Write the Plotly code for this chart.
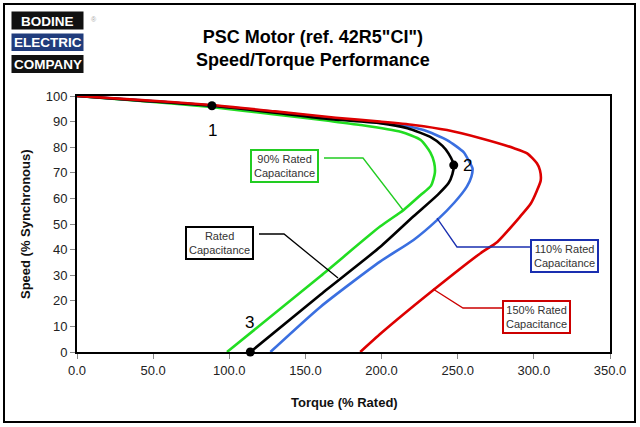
import plotly.graph_objects as go

# ---------------- data (torque % rated, speed % synchronous) ----------------
torque_rated = [0, 40, 88.6, 130, 165, 199, 217, 232, 240, 244, 247.4, 246.5, 244, 237, 221, 199, 160, 113.8]
speed_rated = [100, 98.3, 96.2, 93.5, 91, 89.4, 87.4, 84, 80.5, 77.5, 73, 69.5, 66, 61.5, 53, 41, 22.5, 0]

torque_90 = [0, 40, 88, 130, 165, 186, 212.5, 225.7, 232, 234.5, 235, 232.5, 226, 214.5, 199, 160, 98.5]
speed_90 = [100, 98.2, 95.7, 92.8, 90.3, 88.7, 86, 82.8, 78, 74, 70, 65, 61.5, 55.5, 49, 29.7, 0]

torque_110 = [0, 40, 88, 130, 180, 212.5, 227.6, 243, 254, 257, 259.7, 259, 256, 248, 236.6, 221, 199, 160, 127]
speed_110 = [100, 98.4, 96.3, 93.8, 90.5, 88.7, 86.7, 82.8, 78, 75, 71.8, 68.5, 64.6, 58.5, 51.6, 43.75, 35.3, 17.7, 0]

torque_150 = [0, 40, 88, 130, 170, 199, 221, 243, 265, 287, 295.6, 302, 304, 304.5, 302, 298, 291, 276, 265, 234, 200, 186]
speed_150 = [100, 98.5, 96.5, 94, 91.5, 90, 88.7, 86.7, 83.5, 79.6, 77.6, 73.7, 71, 67, 63, 58, 52.9, 43, 38.6, 24.2, 7.5, 0]

point_labels = ["1", "2", "3"]
point_torque = [88.6, 247.4, 113.8]
point_speed = [96.2, 73, 0]

x_ticks = [0, 50, 100, 150, 200, 250, 300, 350]
y_ticks = [0, 10, 20, 30, 40, 50, 60, 70, 80, 90, 100]

callout_texts = ["90% Rated<br>Capacitance", "Rated<br>Capacitance",
                 "110% Rated<br>Capacitance", "150% Rated<br>Capacitance"]

# ---------------- style ----------------
C_GREEN = "#22dd22"
C_BLACK = "#000000"
C_BLUE = "#3a6fe0"
C_RED = "#dd0000"
FONT = "Liberation Sans, Arial, sans-serif"

# plot area in pixels (left, right, top, bottom)
L, R, T, B = 77, 610, 96, 352
W, H = 640, 427


def pxx(p):
    return (p - L) / (R - L)


def pxy(p):
    return (B - p) / (B - T)


fig = go.Figure()


def curve(x, y, color, name):
    fig.add_trace(go.Scatter(x=x, y=y, mode="lines", name=name,
                             line=dict(color=color, width=2.6, shape="spline", smoothing=0.6),
                             hoverinfo="x+y", cliponaxis=False))


curve(torque_90, speed_90, C_GREEN, "90% Rated Capacitance")
curve(torque_110, speed_110, C_BLUE, "110% Rated Capacitance")
curve(torque_rated, speed_rated, C_BLACK, "Rated Capacitance")
curve(torque_150, speed_150, C_RED, "150% Rated Capacitance")

fig.add_trace(go.Scatter(x=point_torque, y=point_speed, mode="markers",
                         marker=dict(color="black", size=9), cliponaxis=False,
                         showlegend=False))

annotations = []
shapes = []

# point number labels
label_pos = [(212, 130), (467, 165), (249, 322)]
for t, (px, py) in zip(point_labels, label_pos):
    annotations.append(dict(x=pxx(px), y=pxy(py), xref="paper", yref="paper",
                            text=t, showarrow=False, xanchor="center", yanchor="middle",
                            font=dict(family=FONT, size=17, color="black")))

# callout boxes: center px, border colour
box_specs = [((284, 166), "#22cc22"),
             ((219, 242.5), "#000000"),
             ((564.5, 255.5), "#1a2fb0"),
             ((536, 317), "#cc0000")]
for txt, ((cx, cy), bcol) in zip(callout_texts, box_specs):
    annotations.append(dict(x=pxx(cx), y=pxy(cy), xref="paper", yref="paper",
                            text=txt, showarrow=False, xanchor="center", yanchor="middle",
                            align="center", bgcolor="white", bordercolor=bcol,
                            borderwidth=2, borderpad=2,
                            font=dict(family=FONT, size=11, color="#333333")))

# leader lines (pixel paths)
leaders = [([(324, 158), (363, 158), (403, 210)], "#22cc22"),
           ([(259, 234), (284, 234), (338, 278)], "#000000"),
           ([(530, 247), (457, 247), (437, 218)], "#1a2fb0"),
           ([(502, 308), (463, 308), (433, 289)], "#cc0000")]
for pts, col in leaders:
    path = "M " + " L ".join(f"{pxx(a):.4f},{pxy(b):.4f}" for a, b in pts)
    shapes.append(dict(type="path", xref="paper", yref="paper", path=path,
                       line=dict(color=col, width=1.3), layer="above"))

# outer frame
shapes.append(dict(type="rect", xref="paper", yref="paper",
                   x0=pxx(4), x1=pxx(635), y0=pxy(422), y1=pxy(4),
                   line=dict(color="black", width=2), layer="below"))

# logo
logo = [("BODINE", 11.5, 29.5, "#111111"),
        ("ELECTRIC", 33.5, 51, "#203c7c"),
        ("COMPANY", 55, 73, "#111111")]
for txt, y0, y1, col in logo:
    shapes.append(dict(type="rect", xref="paper", yref="paper",
                       x0=pxx(11.5), x1=pxx(83.5), y0=pxy(y1), y1=pxy(y0),
                       fillcolor=col, line=dict(width=0), layer="above"))
    annotations.append(dict(x=pxx(47.5), y=pxy((y0 + y1) / 2 + 0.5), xref="paper", yref="paper",
                            text=f"<b>{txt}</b>", showarrow=False,
                            xanchor="center", yanchor="middle",
                            font=dict(family=FONT, size=13.5, color="white")))
annotations.append(dict(x=pxx(89), y=pxy(14), xref="paper", yref="paper", text="®",
                        showarrow=False, font=dict(family=FONT, size=7, color="#aaaaaa")))

# title
annotations.append(dict(x=pxx(313), y=pxy(48), xref="paper", yref="paper",
                        text="<b>PSC Motor (ref. 42R5\"CI\")<br>Speed/Torque Performance</b>",
                        showarrow=False, xanchor="center", yanchor="middle",
                        font=dict(family=FONT, size=18, color="black")))

# axis titles
annotations.append(dict(x=pxx(344), y=pxy(402), xref="paper", yref="paper",
                        text="<b>Torque (% Rated)</b>", showarrow=False,
                        xanchor="center", yanchor="middle",
                        font=dict(family=FONT, size=13, color="#111111")))
annotations.append(dict(x=pxx(25), y=pxy(224), xref="paper", yref="paper",
                        text="<b>Speed (% Synchronous)</b>", showarrow=False, textangle=-90,
                        xanchor="center", yanchor="middle",
                        font=dict(family=FONT, size=13, color="#111111")))

fig.update_layout(
    width=W, height=H,
    margin=dict(l=L, r=W - R, t=T, b=H - B, pad=0),
    paper_bgcolor="white", plot_bgcolor="white",
    showlegend=False,
    annotations=annotations, shapes=shapes,
    font=dict(family=FONT, size=13, color="#222222"),
)
fig.update_xaxes(range=[0, 350], tickvals=x_ticks, tickformat=".1f",
                 showgrid=False, zeroline=False, showline=True, linecolor="black",
                 linewidth=2, mirror=True, ticks="outside", ticklen=5, tickcolor="#888888",
                 tickfont=dict(family=FONT, size=13, color="#222222"))
fig.update_yaxes(range=[0, 100], tickvals=y_ticks,
                 showgrid=False, zeroline=False, showline=True, linecolor="black",
                 linewidth=2, mirror=True, ticks="outside", ticklen=5, tickcolor="#888888",
                 tickfont=dict(family=FONT, size=13, color="#222222"))

fig.write_html("out.html", config={"displayModeBar": False},
               post_script="document.body.style.margin='0px';document.body.style.overflow='hidden';")
